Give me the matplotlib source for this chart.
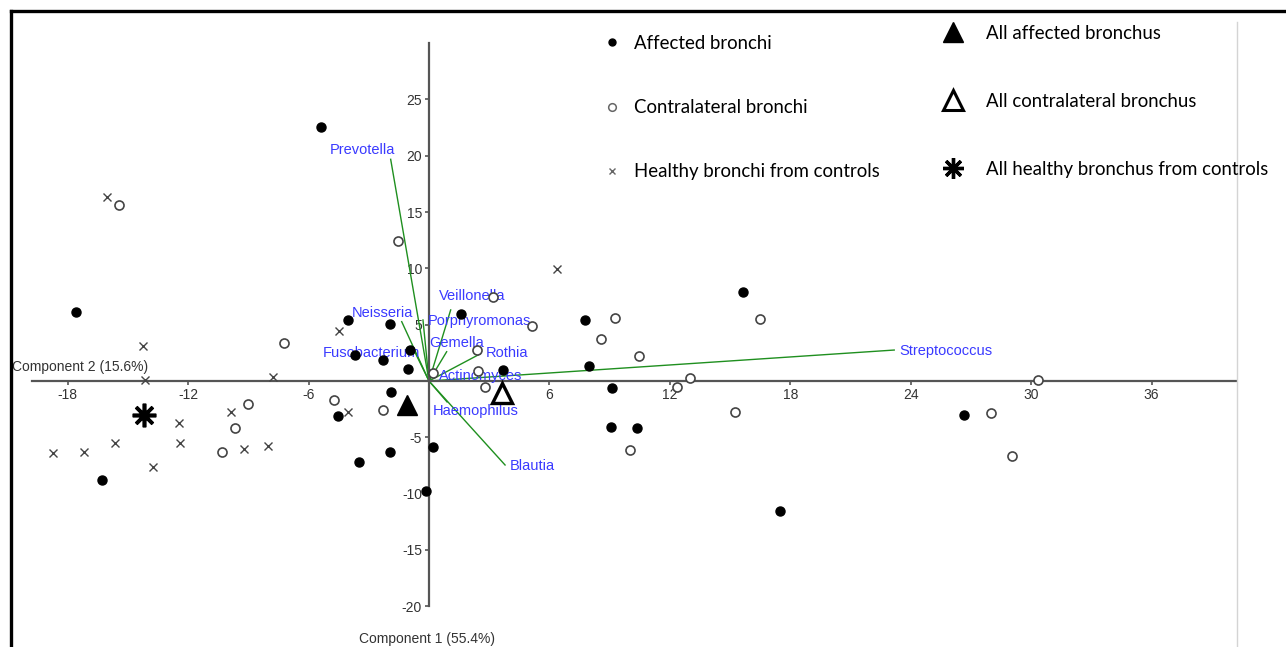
import matplotlib
matplotlib.use("Agg")
import matplotlib.pyplot as plt
from matplotlib.lines import Line2D

plt.rcParams['axes.unicode_minus'] = False
plt.rcParams['font.family'] = ['Liberation Sans', 'DejaVu Sans']

# ---------------- data ----------------
affected_x = [-5.38, -17.58, -4.03, -1.94, -0.95, -3.69, -2.29, -1.05, -1.89, -4.53,
              -3.49, -1.94, 0.22, -0.15, -16.28, 1.57, 3.68, 7.79, 7.96, 9.11,
              9.06, 10.34, 15.67, 17.48, 26.67]
affected_y = [22.53, 6.10, 5.39, 5.06, 2.78, 2.34, 1.86, 1.09, -0.98, -3.11,
              -7.17, -6.31, -5.83, -9.80, -8.82, 5.95, 0.98, 5.45, 1.36, -0.65,
              -4.12, -4.17, 7.87, -11.55, -3.02]

contra_x = [-15.44, -1.52, 3.21, 5.11, -7.21, 2.39, 2.44, 2.79, 0.21, -4.72,
            -2.31, -9.03, -9.66, -10.32, 9.28, 8.59, 10.47, 13.02, 12.38, 15.23,
            10.02, 16.49, 28.00, 29.05, 30.35]
contra_y = [15.60, 12.46, 7.43, 4.88, 3.40, 2.75, 0.89, -0.50, 0.68, -1.69,
            -2.58, -2.04, -4.15, -6.31, 5.57, 3.73, 2.19, 0.24, -0.50, -2.75,
            -6.13, 5.53, -2.87, -6.63, 0.09]

healthy_x = [-16.05, 6.39, -4.47, -14.23, -14.14, -7.75, -4.02, -9.86, -12.45, -12.43,
             -15.64, -17.17, -18.71, -13.76, -9.21, -8.02]
healthy_y = [16.37, 9.92, 4.47, 3.14, 0.09, 0.38, -2.72, -2.72, -3.76, -5.48,
             -5.48, -6.33, -6.42, -7.61, -6.04, -5.75]

centroid_affected = (-1.10, -2.10)
centroid_contra = (3.63, -1.07)
centroid_healthy = (-14.19, -3.02)

species = ['Prevotella', 'Veillonella', 'Neisseria', 'Porphyromonas', 'Gemella',
           'Fusobacterium', 'Rothia', 'Actinomyces', 'Haemophilus', 'Blautia',
           'Streptococcus']
load_x = [-1.91, 1.08, -1.36, -0.30, 0.88, -0.85, 2.54, 0.30, 0.90, 3.79, 23.18]
load_y = [19.69, 6.31, 5.27, 5.42, 2.60, 3.10, 2.40, 0.98, -1.86, -7.46, 2.75]

xticks = [-18, -12, -6, 6, 12, 18, 24, 30, 36]
yticks = [25, 20, 15, 10, 5, -5, -10, -15, -20]

# label layout (pixel offsets from vector tip, alignment)
label_layout = {
    'Prevotella': (4, 9, 'right'),
    'Veillonella': (-12, 14, 'left'),
    'Neisseria': (11, 9, 'right'),
    'Porphyromonas': (5, -1, 'left'),
    'Gemella': (-17, 9, 'left'),
    'Fusobacterium': (8, -7, 'right'),
    'Rothia': (6, 1, 'left'),
    'Actinomyces': (4, -6, 'left'),
    'Haemophilus': (-14, -9, 'left'),
    'Blautia': (5, -1, 'left'),
    'Streptococcus': (5, -1, 'left'),
}

# ---------------- figure ----------------
W, H = 1286, 647
fig = plt.figure(figsize=(W / 100, H / 100), dpi=100)
ax = fig.add_axes([0, 0, 1, 1])
x0, sx = 429.0, 20.07
y0, sy = 381.0, 11.26
ax.set_xlim(-x0 / sx, (W - x0) / sx)
ax.set_ylim((y0 - H) / sy, y0 / sy)
ax.patch.set_alpha(0)

axis_col = '#555555'
for s in ['top', 'right']:
    ax.spines[s].set_visible(False)
ax.spines['left'].set_position(('data', 0))
ax.spines['bottom'].set_position(('data', 0))
ax.spines['left'].set_bounds(-20, 30)
ax.spines['bottom'].set_bounds(-19.8, 40.2)
for s in ['left', 'bottom']:
    ax.spines[s].set_color(axis_col)
    ax.spines[s].set_linewidth(1.6)
ax.set_xticks(xticks)
ax.set_yticks(yticks)
ax.tick_params(axis='both', labelsize=10, width=1.2, length=3,
               direction='out', pad=2)
ax.tick_params(axis='x', colors=axis_col, labelcolor='#333333')
ax.tick_params(axis='y', colors=axis_col, labelcolor='#333333')

# loadings
green = '#1f8f1f'
for name, lx, ly in zip(species, load_x, load_y):
    ax.plot([0, lx], [0, ly], color=green, lw=1.0, zorder=2)
    dx, dy, ha = label_layout[name]
    ax.annotate(name, xy=(lx, ly), xytext=(dx, dy), textcoords='offset pixels',
                ha=ha, va='center', color='#3a3aff', fontsize=10.5, zorder=3)

# samples
ax.plot(affected_x, affected_y, 'o', color='black', ms=6.5, zorder=4, ls='none')
ax.plot(contra_x, contra_y, 'o', mfc='white', mec='#444444', mew=1.2, ms=6.5,
        zorder=4, ls='none')
ax.plot(healthy_x, healthy_y, 'x', color='#444444', mew=1.0, ms=6, zorder=4, ls='none')

# centroids
ax.plot(*centroid_affected, '^', color='black', ms=15, zorder=5)
ax.plot(*centroid_contra, '^', mfc='white', mec='black', mew=2.4, ms=15, zorder=5)
ax.plot(*centroid_healthy, marker=(8, 2, 0), color='black', mew=2.6, ms=17, zorder=5)

# axis titles
ax.text(-x0 / sx + 12 / sx, (y0 - 367) / sy, 'Component 2 (15.6%)', ha='left',
        va='center', fontsize=10, color='#333333')
ax.text(-0.1, (y0 - 639) / sy, 'Component 1 (55.4%)', ha='center', va='center',
        fontsize=10, color='#333333')

# frame decoration
fig.add_artist(Line2D([11 / W, 11 / W], [0, 1 - 11 / H], color='black', lw=2.4,
                      transform=fig.transFigure))
fig.add_artist(Line2D([11 / W, 1], [1 - 11 / H, 1 - 11 / H], color='black', lw=2.4,
                      transform=fig.transFigure))
fig.add_artist(Line2D([1237 / W, 1237 / W], [0, 1 - 22 / H], color='#d4d4d4', lw=1.0,
                      transform=fig.transFigure))

# legends
lfont = {'family': 'Lato', 'size': 13.4}
h1 = [Line2D([], [], ls='none', marker='o', color='black', ms=5),
      Line2D([], [], ls='none', marker='o', mfc='white', mec='#666666', mew=1.1, ms=5.5),
      Line2D([], [], ls='none', marker='x', color='#666666', mew=1.0, ms=5)]
l1 = ['Affected bronchi', 'Contralateral bronchi', 'Healthy bronchi from controls']
leg1 = fig.legend(h1, l1, loc='upper left', bbox_to_anchor=(603 / W, 1 - 35 / H),
                  bbox_transform=fig.transFigure, frameon=False, borderpad=0,
                  borderaxespad=0, handlelength=1.0, handletextpad=0.67,
                  labelspacing=2.53, prop=lfont)
h2 = [Line2D([], [], ls='none', marker='^', color='black', ms=14),
      Line2D([], [], ls='none', marker='^', mfc='white', mec='black', mew=2.2, ms=14),
      Line2D([], [], ls='none', marker=(8, 2, 0), color='black', mew=2.4, ms=15)]
l2 = ['All affected bronchus', 'All contralateral bronchus',
      'All healthy bronchus from controls']
leg2 = fig.legend(h2, l2, loc='upper left', bbox_to_anchor=(939 / W, 1 - 25 / H),
                  bbox_transform=fig.transFigure, frameon=False, borderpad=0,
                  borderaxespad=0, handlelength=1.5, handletextpad=1.03,
                  labelspacing=2.73, prop=lfont)

fig.savefig('out.png', dpi=100)
